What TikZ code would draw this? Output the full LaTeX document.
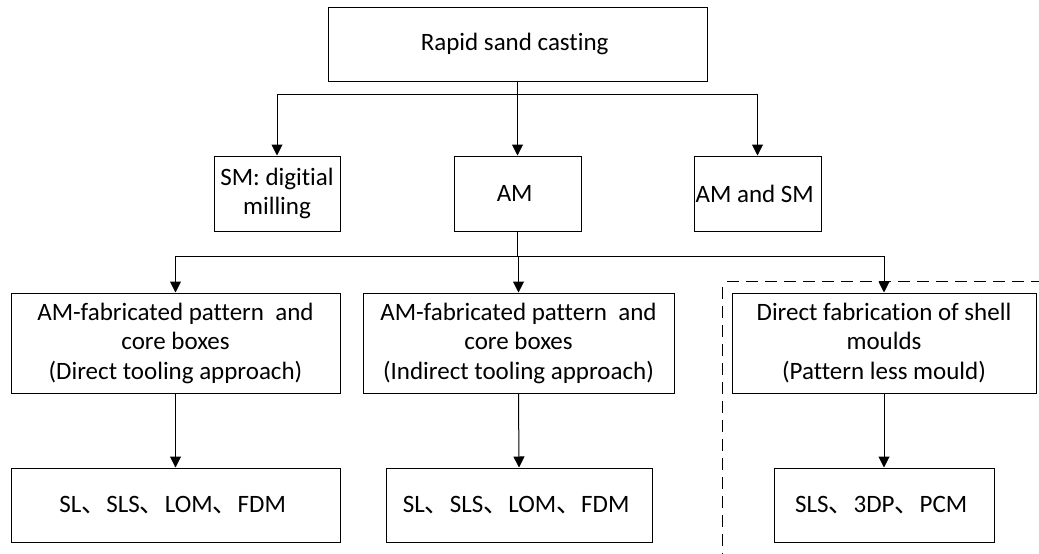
\documentclass[tikz,border=0pt]{standalone}
\usepackage{fontspec}
\setmainfont{Carlito}[Ligatures=NoCommon]
\newfontfamily\cjk{Noto Sans CJK SC}
\usetikzlibrary{arrows.meta}
\def\rowA{44}
\def\rowB{193.5}
\def\rowC{343}
\def\rowD{505}
\def\sep{{\cjk 、}}

\begin{document}
\begin{tikzpicture}[
    x=1pt, y=-1pt,
    font=\fontsize{25}{29.5}\selectfont,
    box/.style={
      draw, line width=1pt, align=center, inner sep=0pt
    },
    arrowtip/.style={
      line width=1pt, -{Triangle[length=11pt,width=11pt]}
    },
    region/.style={
      line width=1pt, dash pattern=on 12pt off 7pt
    }
  ]
    \useasboundingbox (0,0) rectangle (1039,554);

    \node[box, minimum width=379pt, minimum height=74pt] (rapid) at (517.5,\rowA) { Rapid sand casting };

    \node[box, minimum width=126pt, minimum height=75pt] (sm) at (277,\rowB) { SM: digitial\\ milling };
    \node[box, minimum width=127pt, minimum height=75pt] (am) at (517.5,\rowB) { AM };
    \node[box, minimum width=127pt, minimum height=75pt] (amsm) at (757.5,\rowB) { AM and SM };

    \node[box, minimum width=329pt, minimum height=100pt] (direct) at (175.5,\rowC) { AM-fabricated pattern~ and\\ core boxes\\ (Direct tooling approach) };
    \node[box, minimum width=311pt, minimum height=100pt] (indirect) at (518.5,\rowC) { AM-fabricated pattern~ and\\ core boxes\\ (Indirect tooling approach) };
    \node[box, minimum width=304pt, minimum height=100pt] (shell) at (884,\rowC) { Direct fabrication of shell\\ moulds\\ (Pattern less mould) };

    \node[box, minimum width=329pt, minimum height=74pt] (procA) at (175.5,\rowD) { SL\sep SLS\sep LOM\sep FDM };
    \node[box, minimum width=266pt, minimum height=74pt] (procB) at (519,\rowD) { SL\sep SLS\sep LOM\sep FDM };
    \node[box, minimum width=220pt, minimum height=74pt] (procC) at (884,\rowD) { SLS\sep 3DP\sep PCM };

    \draw[arrowtip] (rapid.south) -- (am.north);
    \draw[arrowtip] (rapid.south) -- ++(0,13) -| (sm.north);
    \draw[arrowtip] (rapid.south) -- ++(0,13) -| (amsm.north);

    \draw[arrowtip] (am.south) -- ++(0,25) -| (direct.north);
    \draw[arrowtip] (am.south) -- ++(0,25) -| (indirect.north);
    \draw[arrowtip] (am.south) -- ++(0,25) -| (shell.north);

    \draw[arrowtip] (direct.south) -- (procA.north);
    \draw[arrowtip] (indirect.south) -- (procB.north);
    \draw[arrowtip] (shell.south) -- (procC.north);

    \draw[region] (727,281) -- (1039,281);
    \draw[region] (722,287) -- (722,554);
  \end{tikzpicture}
\end{document}
